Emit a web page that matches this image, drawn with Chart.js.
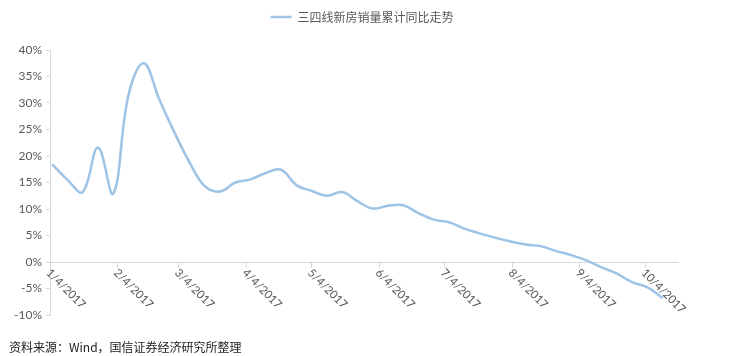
<!DOCTYPE html>
<html><head><meta charset="utf-8">
<script src="https://cdn.jsdelivr.net/npm/chart.js@4.4.0/dist/chart.umd.min.js"></script>
<style>
html,body{margin:0;padding:0;background:#fff;}
#wrap{position:relative;width:740px;height:356px;}
#footer{position:absolute;left:9px;top:338px;font:12px "Noto Sans CJK SC";color:#222;white-space:nowrap;}
</style></head><body>
<div id="wrap"><canvas id="c" width="740" height="356"></canvas><div id="footer">资料来源：Wind，国信证券经济研究所整理</div></div>
<script>
const seriesName = '三四线新房销量累计同比走势';
const dates = ['2017-01-05','2017-01-12','2017-01-19','2017-01-26','2017-02-02','2017-02-09','2017-02-16','2017-02-23',
  '2017-03-02','2017-03-09','2017-03-16','2017-03-23','2017-03-30','2017-04-06','2017-04-13','2017-04-20','2017-04-27',
  '2017-05-04','2017-05-11','2017-05-18','2017-05-25','2017-06-01','2017-06-08','2017-06-15','2017-06-22','2017-06-29',
  '2017-07-06','2017-07-13','2017-07-20','2017-07-27','2017-08-03','2017-08-10','2017-08-17','2017-08-24','2017-08-31',
  '2017-09-07','2017-09-14','2017-09-21','2017-09-28','2017-10-05','2017-10-12'];
const values = [18.4,15.5,13.2,21.6,12.9,31.5,37.5,30.8,
  24.5,18.8,14.3,13.3,15.0,15.6,16.8,17.4,
  14.5,13.4,12.5,13.2,11.5,10.1,10.6,10.7,9.2,
  8.0,7.5,6.3,5.4,4.6,3.9,3.3,3.0,2.1,
  1.3,0.3,-1.0,-2.2,-3.8,-4.8,-6.8];
const tickDates = ['2017-01-04','2017-02-04','2017-03-04','2017-04-04','2017-05-04','2017-06-04','2017-07-04','2017-08-04','2017-09-04','2017-10-04'];
const tickLabels = ['1/4/2017','2/4/2017','3/4/2017','4/4/2017','5/4/2017','6/4/2017','7/4/2017','8/4/2017','9/4/2017','10/4/2017'];
const axisStart = '2017-01-04';
const axisEnd = '2017-10-19';
const yMin = -10, yMax = 40, yStep = 5;

const DAY = 86400000;
const dayOf = d => (Date.parse(d) - Date.parse(axisStart)) / DAY;
const points = dates.map((d, i) => ({x: dayOf(d), y: values[i]}));

const legendSpace = {
  id: 'legendSpace',
  beforeInit(chart) {
    const orig = chart.legend.fit;
    chart.legend.fit = function() { orig.bind(this)(); this.height = 50; };
  }
};
const xLabels = {
  id: 'xLabels',
  afterDraw(chart) {
    const ctx = chart.ctx, xs = chart.scales.x, ys = chart.scales.y;
    const y0 = ys.getPixelForValue(0);
    ctx.save();
    ctx.font = '11.5px Lato';
    ctx.fillStyle = '#595959';
    xs.ticks.forEach((t, i) => {
      const px = xs.getPixelForValue(t.value);
      ctx.save();
      ctx.translate(px - 2, y0 + 9);
      ctx.rotate(Math.PI / 4);
      ctx.textAlign = 'left';
      ctx.textBaseline = 'middle';
      ctx.fillText(tickLabels[i], 0, 0);
      ctx.restore();
    });
    ctx.restore();
  }
};

new Chart(document.getElementById('c'), {
  type: 'line',
  data: {
    datasets: [{
      label: seriesName,
      data: points,
      borderColor: '#9dc3e6',
      backgroundColor: '#9dc3e6',
      borderWidth: 2.5,
      pointRadius: 0,
      tension: 0.4,
      fill: false
    }]
  },
  options: {
    responsive: false,
    animation: false,
    layout: {padding: {left: 0, right: 16, top: 0, bottom: 41}},
    plugins: {
      legend: {
        position: 'top',
        labels: {
          usePointStyle: true,
          pointStyle: 'line',
          pointStyleWidth: 21,
          padding: 11,
          color: '#595959',
          font: {family: '"Noto Sans CJK SC"', size: 12}
        }
      },
      tooltip: {enabled: false}
    },
    scales: {
      x: {
        type: 'linear',
        position: {y: 0},
        min: 0,
        max: dayOf(axisEnd),
        afterBuildTicks: s => { s.ticks = tickDates.map(d => ({value: dayOf(d)})); },
        ticks: {display: false},
        grid: {display: true, drawOnChartArea: false, drawTicks: true, tickLength: 5, color: '#d9d9d9'},
        border: {display: true, color: '#d9d9d9'}
      },
      y: {
        position: 'left',
        min: yMin, max: yMax,
        afterFit: s => { s.width = 50; },
        ticks: {stepSize: yStep, color: '#595959', padding: 4, font: {family: 'Lato', size: 12}, callback: v => v + '%'},
        grid: {display: true, drawOnChartArea: false, drawTicks: true, tickLength: 4, color: '#d9d9d9'},
        border: {display: true, color: '#d9d9d9'}
      },
      y2: {
        position: 'right',
        afterFit: s => { s.width = 46; },
        ticks: {display: false},
        grid: {display: false},
        border: {display: false}
      }
    }
  },
  plugins: [legendSpace, xLabels]
});
</script>
</body></html>
